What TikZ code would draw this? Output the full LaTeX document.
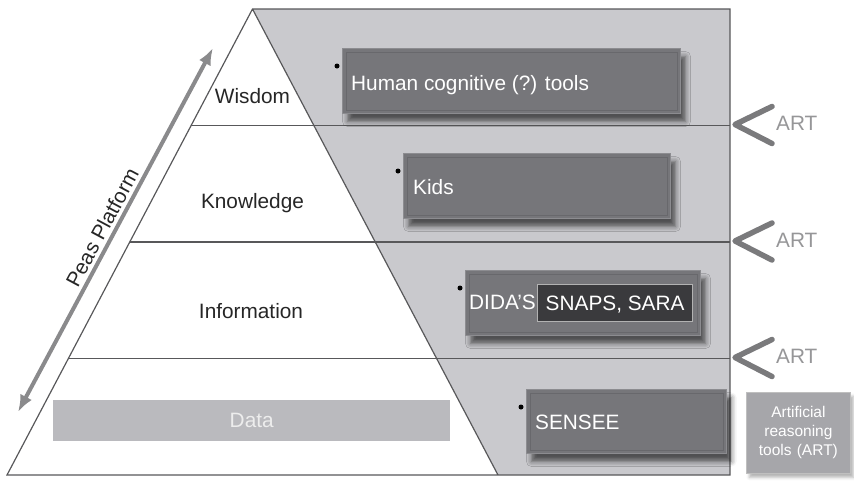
\documentclass[tikz,border=0pt]{standalone}
\usepackage{fontspec}
\setmainfont{Liberation Sans}
\usetikzlibrary{calc}
\usetikzlibrary{arrows.meta}
\usetikzlibrary{shadows.blur}
\definecolor{regiongray}{RGB}{201,201,205}
\definecolor{boxgray}{RGB}{118,118,122}
\definecolor{boxedge}{RGB}{140,140,144}
\definecolor{bevelgray}{RGB}{104,104,108}
\definecolor{darkbox}{RGB}{58,58,61}
\definecolor{databar}{RGB}{186,186,190}
\definecolor{artbox}{RGB}{166,166,170}
\definecolor{chevgray}{RGB}{122,122,124}
\definecolor{arttext}{RGB}{150,150,152}
\definecolor{arrowgray}{RGB}{138,138,140}
\definecolor{edgegray}{RGB}{88,88,90}
\newcommand\labfont{\fontsize{20.8pt}{24pt}\selectfont}
\newcommand\artfont{\fontsize{15.5pt}{19pt}\selectfont}
\tikzset{toolbox/.style={anchor=north west,fill=boxgray,draw=boxedge,line width=1pt,blur shadow={shadow xshift=5pt,shadow yshift=-8pt,shadow blur radius=5pt,shadow opacity=60}},
boxtext/.style={anchor=base west,inner sep=0pt,text=white,font=\labfont},
level/.style={anchor=base,inner sep=0pt,text=black!85,font=\labfont},
artmark/.style={line width=5.5pt,draw=chevgray,line cap=round,line join=round},
artlabel/.style={anchor=base west,inner sep=0pt,text=arttext,font=\labfont},
bullet/.style={circle,fill=black,inner sep=0pt,minimum size=5pt}}

\begin{document}
\begin{tikzpicture}[x=1pt,y=-1pt]
\useasboundingbox (0,0) rectangle (854,480);
\coordinate (apex) at (252.5,9);
\coordinate (bl) at (7,475);
\coordinate (br) at (498,475);
\coordinate (tr) at (730,9);
\coordinate (rb) at (730,475);
% pyramid and grey side
\fill[regiongray] (apex) -- (tr) -- (rb) -- (br) -- cycle;
\draw[edgegray,line width=1.2pt] (bl) -- (rb) -- (tr) -- (apex) -- cycle (apex) -- (br);
\foreach \t / \n in {0.25/1,0.5/2,0.75/3} {
\coordinate (m\n) at ($(tr)!\t!(rb)$);
\draw[edgegray,line width=1.6pt] ($(apex)!\t!(bl)$) -- (m\n);
\draw[artmark] ([shift={(42,-19)}]m\n) -- ([shift={(5,-1)}]m\n) -- ([shift={(42,18)}]m\n);
\node[artlabel] (art\n) at ([shift={(46,5)}]m\n) {ART};
}
% levels
\node[level] (wis) at (252.5,103) {Wisdom};
\node[level] (know) at (252.5,208) {Knowledge};
\node[level] (info) at (251,318) {Information};
\node[anchor=north west,fill=databar,minimum width=397pt,minimum height=41pt,inner sep=0pt,text=white!93!black,font=\labfont] (data) at (53,400) {Data};
% platform arrow
\coordinate (pb) at (18,412);
\coordinate (pt) at (213,48);
\draw[{Latex[length=17pt,width=13pt]}-{Latex[length=17pt,width=13pt]},line width=4pt,arrowgray] (pb) -- node[pos=0.49,above,sloped,font=\labfont,text=black!85] (peas) {Peas Platform} (pt);
% tools
\node[toolbox,minimum width=338pt,minimum height=65pt] (hum) at (342,48) {};
\node[toolbox,minimum width=267pt,minimum height=65pt] (kids) at (403,153) {};
\node[toolbox,minimum width=235pt,minimum height=65pt] (dida) at (465,270) {};
\node[toolbox,minimum width=200pt,minimum height=64pt] (sensee) at (526,389) {};
\foreach \b in {hum,kids,dida,sensee} {
\draw[bevelgray,line width=0.8pt] ([shift={(4,4)}]\b.north west) rectangle ([shift={(-4,-4)}]\b.south east);
\node[bullet] (dot\b) at ([shift={(-5,18)}]\b.north west) {};
}
\node[boxtext] (humtxt) at (351,90) {Human cognitive (?) tools};
\node[boxtext] (kidstxt) at (413,194) {Kids};
\node[boxtext] (didatxt) at (469,309) {DIDA'S};
\node[anchor=north west,fill=darkbox,draw=white!70!black,line width=1.2pt,minimum width=155pt,minimum height=37pt,inner sep=0pt,text height=15pt,text depth=0pt,text=white,font=\labfont] (snaps) at (537,284) {SNAPS, SARA};
\node[boxtext] (sentxt) at (535,429) {SENSEE};
\node[anchor=north west,fill=artbox,draw=white!75!black,line width=0.8pt,minimum width=104pt,minimum height=81pt,inner sep=0pt,text width=100pt,align=center,text=white,font=\artfont,blur shadow={shadow xshift=3pt,shadow yshift=-4pt,shadow blur radius=3pt,shadow opacity=30}] (art) at (746,392) {Artificial\\reasoning\\tools (ART)};
\end{tikzpicture}
\end{document}
